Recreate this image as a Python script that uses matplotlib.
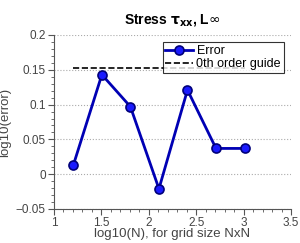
import matplotlib
matplotlib.use("Agg")
import matplotlib.pyplot as plt
from matplotlib.ticker import MultipleLocator

# data
log_n = [1.204, 1.505, 1.806, 2.107, 2.408, 2.709, 3.010]
log_err = [0.013, 0.143, 0.097, -0.021, 0.121, 0.037, 0.037]
guide_level = 0.152

TICK = "#555555"
plt.rcParams["font.family"] = ["Liberation Sans", "DejaVu Sans"]
plt.rcParams["mathtext.fontset"] = "dejavusans"

fig = plt.figure(figsize=(3.0, 2.43), dpi=100)
ax = fig.add_axes([0.18, 0.14, 0.79, 0.716])

ax.plot(log_n, log_err, "-o", color="#0000b4", lw=2, ms=6.5,
        mfc="#1a1aff", mec="#00007a", mew=1.2, label="Error", zorder=3)
ax.plot([log_n[0], log_n[-1]], [guide_level, guide_level], "--", color="black",
        lw=1.2, label="0th order guide", zorder=2)

ax.set_xlim(1, 3.5)
ax.set_ylim(-0.05, 0.2)
ax.xaxis.set_major_locator(MultipleLocator(0.5))
ax.xaxis.set_minor_locator(MultipleLocator(0.1))
ax.yaxis.set_major_locator(MultipleLocator(0.05))
ax.yaxis.set_minor_locator(MultipleLocator(0.01))
ax.yaxis.grid(True, which="major", ls=":", color="#aaaaaa", lw=0.8)

for s in ("top", "right"):
    ax.spines[s].set_visible(False)
for s in ("left", "bottom"):
    ax.spines[s].set_color(TICK)
ax.tick_params(which="both", direction="out", colors=TICK, labelsize=8.5,
               labelcolor="#444444", pad=2)
ax.tick_params(which="major", length=4)
ax.tick_params(which="minor", length=2)


def fmt(v, _):
    return f"{v:g}".replace("-", "\u2212")


ax.xaxis.set_major_formatter(plt.FuncFormatter(fmt))
ax.yaxis.set_major_formatter(plt.FuncFormatter(fmt))

ax.set_xlabel("log10(N), for grid size NxN", fontsize=9.5, color="#444444", labelpad=-1)
ax.set_ylabel("log10(error)", fontsize=9.5, color="#444444", labelpad=3)
ax.set_title(r"Stress $\mathbf{\tau_{xx}}$, L$\infty$", fontsize=10, fontweight="bold", pad=8)

leg = ax.legend(loc="upper right", fontsize=9, frameon=True, fancybox=False,
                edgecolor="black", borderpad=0.2, handlelength=2.2,
                handletextpad=0.3, labelspacing=0.1, borderaxespad=0.6)
leg.get_frame().set_linewidth(0.8)

fig.savefig("out.png", dpi=100)
